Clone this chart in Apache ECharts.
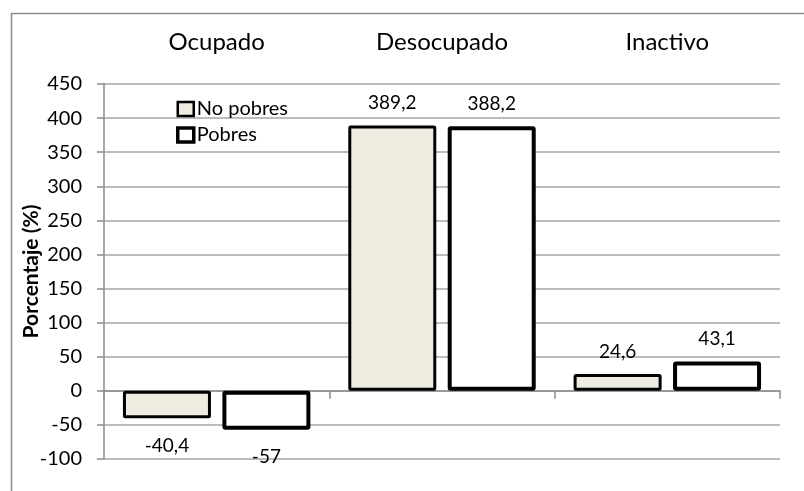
<!DOCTYPE html>
<html>
<head>
<meta charset="utf-8">
<script src="https://cdn.jsdelivr.net/npm/echarts@6/dist/echarts.min.js"></script>
<style>
  html, body { margin: 0; padding: 0; background: #fff; }
  #main { width: 804px; height: 491px; }
</style>
</head>
<body>
<div id="main"></div>
<script>
// categorias y valores (%)
const categories = ['Ocupado', 'Desocupado', 'Inactivo'];
const noPobres = [-40.4, 389.2, 24.6];
const pobres = [-57, 388.2, 43.1];
const yTicks = { min: -100, max: 450, interval: 50 };

const font = 'Lato, "Open Sans", sans-serif';
const gridColor = '#a6a6a6';

function fmt(p) {
  return String(p.value).replace('.', ',');
}

function labelFor(values) {
  // positivos arriba, negativos abajo
  return values.map(v => ({
    value: v,
    label: v < 0 ? { position: 'bottom', distance: 18 } : { position: 'top', distance: 13 }
  }));
}

let chart = echarts.init(document.getElementById('main'));
let option = {
  animation: false,
  textStyle: { fontFamily: font },
  graphic: [{
    type: 'rect',
    shape: { x: 11.5, y: 13.5, width: 900, height: 600 },
    style: { fill: 'none', stroke: '#8c8c8c', lineWidth: 1.5 },
    silent: true
  }],
  grid: { left: 104, right: 24, top: 84, bottom: 32 },
  legend: {
    orient: 'vertical',
    left: 171,
    top: 94,
    itemWidth: 16,
    itemHeight: 14,
    itemGap: 6,
    textStyle: { fontSize: 20, color: '#000', fontFamily: font, padding: [0, 0, 0, -2] },
    data: [
      { name: 'No pobres', icon: 'rect', itemStyle: { color: '#eeece1', borderColor: '#000', borderWidth: 2.5 } },
      { name: 'Pobres', icon: 'rect', itemStyle: { color: '#fff', borderColor: '#000', borderWidth: 3.5 } }
    ]
  },
  xAxis: [
    {
      type: 'category',
      data: categories,
      position: 'bottom',
      axisLine: { onZero: true, lineStyle: { color: '#8c8c8c', width: 1.5 } },
      axisTick: { show: true, length: 8, lineStyle: { color: '#8c8c8c', width: 1.5 } },
      axisLabel: { show: false },
      splitLine: { show: false }
    },
    {
      type: 'category',
      data: categories,
      position: 'top',
      offset: 22,
      axisLine: { show: false },
      axisTick: { show: false },
      axisLabel: { fontSize: 24, color: '#000', fontFamily: font }
    }
  ],
  yAxis: {
    type: 'value',
    min: yTicks.min,
    max: yTicks.max,
    interval: yTicks.interval,
    name: 'Porcentaje (%)',
    nameLocation: 'middle',
    nameGap: 62,
    nameMoveOverlap: false,
    nameTextStyle: { fontSize: 21, fontWeight: 'bold', color: '#000', fontFamily: font },
    axisLine: { show: true, lineStyle: { color: '#8c8c8c', width: 1.5 } },
    axisTick: { show: true, length: 7, lineStyle: { color: '#8c8c8c', width: 1.5 } },
    axisLabel: { fontSize: 20, color: '#000', margin: 22, fontFamily: font },
    splitLine: { show: true, lineStyle: { color: gridColor, width: 1.5 } }
  },
  series: [
    {
      name: 'No pobres',
      type: 'bar',
      xAxisIndex: 0,
      barWidth: 88,
      barGap: '13%',
      data: labelFor(noPobres),
      itemStyle: { color: '#eeece1', borderColor: '#000', borderWidth: 3, borderRadius: 1 },
      label: { show: true, fontSize: 19, color: '#000', fontFamily: font, formatter: fmt }
    },
    {
      name: 'Pobres',
      type: 'bar',
      xAxisIndex: 0,
      barWidth: 88,
      barGap: '13%',
      data: labelFor(pobres),
      itemStyle: { color: '#fff', borderColor: '#000', borderWidth: 4, borderRadius: 1 },
      label: { show: true, fontSize: 19, color: '#000', fontFamily: font, formatter: fmt }
    }
  ]
};
chart.setOption(option);
</script>
</body>
</html>
